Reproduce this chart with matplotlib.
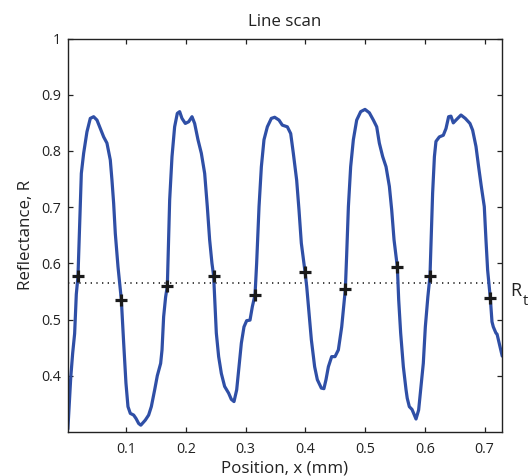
import matplotlib
matplotlib.use("Agg")
import matplotlib.pyplot as plt

# traced line-scan data (position in mm, reflectance)
pos_mm = [0.0024, 0.0072, 0.0104, 0.0137, 0.0165, 0.0193, 0.0215, 0.0232, 0.0249, 0.0288,
          0.0343, 0.0399, 0.0455, 0.0511, 0.0567, 0.0623, 0.0678, 0.0734, 0.0762, 0.0790,
          0.0818, 0.0863, 0.0919, 0.0957, 0.0996, 0.1030, 0.1069, 0.1125, 0.1164, 0.1209,
          0.1245, 0.1320, 0.1376, 0.1421, 0.1477, 0.1521, 0.1577, 0.1600, 0.1627, 0.1660,
          0.1689, 0.1710, 0.1728, 0.1767, 0.1811, 0.1856, 0.1895, 0.1934, 0.1990, 0.2046,
          0.2102, 0.2146, 0.2202, 0.2258, 0.2314, 0.2358, 0.2397, 0.2436, 0.2464, 0.2490,
          0.2509, 0.2548, 0.2593, 0.2648, 0.2715, 0.2760, 0.2805, 0.2850, 0.2889, 0.2928,
          0.2972, 0.3017, 0.3073, 0.3112, 0.3157, 0.3184, 0.3224, 0.3263, 0.3307, 0.3363,
          0.3430, 0.3486, 0.3558, 0.3614, 0.3698, 0.3754, 0.3798, 0.3854, 0.3893, 0.3932,
          0.3994, 0.4022, 0.4061, 0.4100, 0.4155, 0.4200, 0.4267, 0.4310, 0.4345, 0.4385,
          0.4440, 0.4496, 0.4552, 0.4608, 0.4647, 0.4669, 0.4690, 0.4720, 0.4758, 0.4803,
          0.4859, 0.4926, 0.4998, 0.5071, 0.5138, 0.5194, 0.5238, 0.5294, 0.5350, 0.5406,
          0.5445, 0.5484, 0.5540, 0.5562, 0.5595, 0.5640, 0.5685, 0.5705, 0.5740, 0.5785,
          0.5824, 0.5852, 0.5896, 0.5935, 0.5974, 0.6008, 0.6050, 0.6086, 0.6110, 0.6130,
          0.6160, 0.6186, 0.6242, 0.6309, 0.6354, 0.6398, 0.6437, 0.6476, 0.6521, 0.6605,
          0.6677, 0.6755, 0.6800, 0.6856, 0.6900, 0.6945, 0.6995, 0.7023, 0.7051, 0.7096,
          0.7124, 0.7146, 0.7190, 0.7209, 0.7249, 0.7295]
reflectance = [0.305, 0.397, 0.440, 0.475, 0.545, 0.577, 0.650, 0.710, 0.760, 0.796,
               0.834, 0.858, 0.861, 0.855, 0.840, 0.825, 0.814, 0.784, 0.748, 0.707,
               0.653, 0.594, 0.535, 0.460, 0.387, 0.345, 0.333, 0.330, 0.324, 0.315,
               0.312, 0.321, 0.330, 0.345, 0.375, 0.400, 0.422, 0.446, 0.505, 0.540,
               0.560, 0.640, 0.713, 0.790, 0.843, 0.867, 0.870, 0.858, 0.849, 0.852,
               0.861, 0.849, 0.820, 0.796, 0.760, 0.701, 0.642, 0.600, 0.578, 0.520,
               0.476, 0.434, 0.404, 0.381, 0.369, 0.358, 0.354, 0.375, 0.416, 0.458,
               0.487, 0.498, 0.499, 0.523, 0.544, 0.600, 0.701, 0.772, 0.820, 0.843,
               0.858, 0.860, 0.855, 0.846, 0.843, 0.831, 0.796, 0.748, 0.695, 0.636,
               0.585, 0.559, 0.511, 0.464, 0.416, 0.393, 0.378, 0.377, 0.393, 0.416,
               0.434, 0.434, 0.446, 0.487, 0.530, 0.554, 0.612, 0.701, 0.772, 0.820,
               0.855, 0.870, 0.874, 0.868, 0.855, 0.843, 0.814, 0.790, 0.772, 0.737,
               0.695, 0.642, 0.593, 0.535, 0.476, 0.416, 0.375, 0.360, 0.345, 0.340,
               0.330, 0.323, 0.339, 0.381, 0.422, 0.487, 0.540, 0.578, 0.660, 0.725,
               0.790, 0.817, 0.825, 0.828, 0.840, 0.861, 0.862, 0.850, 0.855, 0.864,
               0.858, 0.849, 0.837, 0.808, 0.772, 0.737, 0.701, 0.642, 0.588, 0.538,
               0.496, 0.487, 0.476, 0.474, 0.456, 0.435]

# marked points on the scan
mark_x = [0.0193, 0.0919, 0.1689, 0.2464, 0.3157, 0.3994, 0.4669, 0.5540, 0.6086, 0.7096]
mark_y = [0.577, 0.535, 0.560, 0.578, 0.544, 0.585, 0.554, 0.593, 0.578, 0.538]

# threshold reflectance
R_t = 0.565

x_ticks = [0.1, 0.2, 0.3, 0.4, 0.5, 0.6, 0.7]
x_ticklabels = ["0.1", "0.2", "0.3", "0.4", "0.5", "0.6", "0.7"]
y_ticks = [0.4, 0.5, 0.6, 0.7, 0.8, 0.9, 1.0]
y_ticklabels = ["0.4", "0.5", "0.6", "0.7", "0.8", "0.9", "1"]

plt.rcParams['font.family'] = ['Open Sans', 'DejaVu Sans']
txt = '#222222'

fig = plt.figure(figsize=(5.32, 4.76), dpi=100)
ax = fig.add_axes([0.1276, 0.0926, 0.8164, 0.8263])

ax.plot(pos_mm, reflectance, color='#2f4fa6', lw=2.3, solid_joinstyle='round',
        solid_capstyle='round', zorder=2)
ax.axhline(R_t, color='#222222', lw=1.2, linestyle=(0, (0.8, 2.6)), zorder=1)
ax.plot(mark_x, mark_y, linestyle='none', marker='+', markersize=8,
        markeredgewidth=2.3, color='#1a1a1a', zorder=3)

ax.set_xlim(0.0024, 0.7295)
ax.set_ylim(0.3, 1.0)
ax.set_xticks(x_ticks)
ax.set_xticklabels(x_ticklabels)
ax.set_yticks(y_ticks)
ax.set_yticklabels(y_ticklabels)

ax.tick_params(direction='in', top=True, right=True, length=3.3, width=0.9,
               colors=txt, labelsize=10.3)
ax.tick_params(axis='x', pad=7)
ax.tick_params(axis='y', pad=5)
for s in ax.spines.values():
    s.set_linewidth(1.0)
    s.set_color(txt)

ax.set_title('Line scan', fontsize=12.2, color=txt, pad=9)
ax.set_xlabel('Position, x (mm)', fontsize=12.2, color=txt, labelpad=2.5)
ax.set_ylabel('Reflectance, R', fontsize=12.2, color=txt, labelpad=5)

yax = ax.get_yaxis_transform()
ax.annotate('R', xy=(1.0, R_t), xycoords=yax, xytext=(5.5, 1), textcoords='offset points',
            ha='left', va='top', fontsize=13, color=txt, annotation_clip=False)
ax.annotate('t', xy=(1.0, R_t), xycoords=yax, xytext=(15, -8), textcoords='offset points',
            ha='left', va='top', fontsize=10.5, color=txt, annotation_clip=False)

fig.savefig('out.png', dpi=100)
